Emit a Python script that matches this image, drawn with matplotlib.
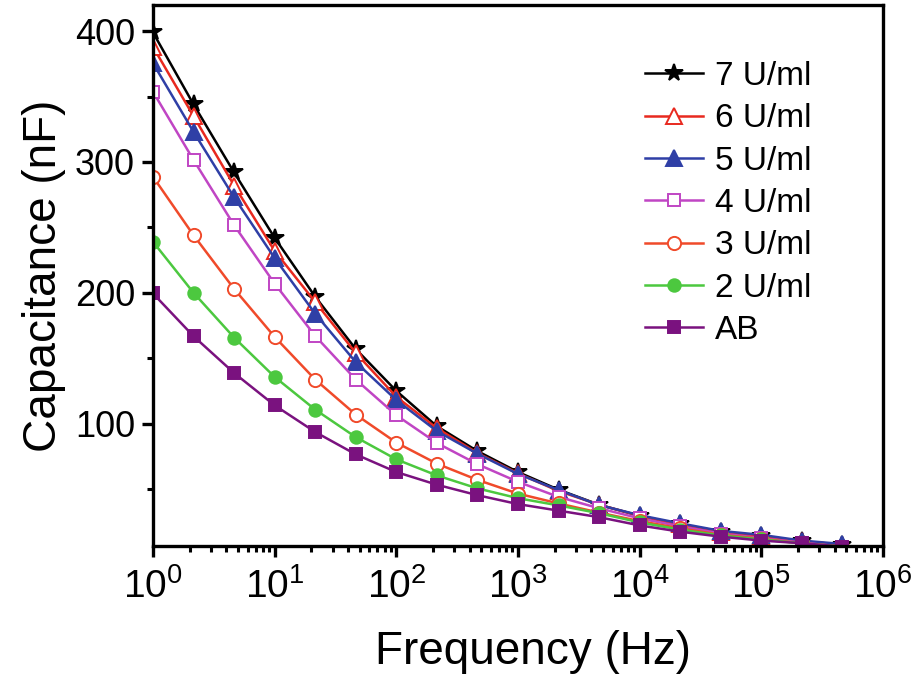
import numpy as np
import matplotlib
matplotlib.use("Agg")
import matplotlib.pyplot as plt
from matplotlib.ticker import LogLocator, FixedLocator, NullFormatter

plt.rcParams['font.family'] = ['Liberation Sans', 'DejaVu Sans']
plt.rcParams['mathtext.fontset'] = 'custom'
plt.rcParams['mathtext.rm'] = 'Liberation Sans'
plt.rcParams['mathtext.it'] = 'Liberation Sans:italic'
plt.rcParams['mathtext.bf'] = 'Liberation Sans:bold'

# frequency exponents (3 points per decade)
log_freq = [0, 1/3, 2/3, 1, 4/3, 5/3, 2, 7/3, 8/3, 3, 10/3, 11/3, 4, 13/3, 14/3, 5, 16/3, 17/3]
freq = [10 ** e for e in log_freq]

labels = ['7 U/ml', '6 U/ml', '5 U/ml', '4 U/ml', '3 U/ml', '2 U/ml', 'AB']
cap_7 = [399, 344, 292, 242, 197, 157, 125, 98, 79, 63, 49.5, 38, 29.5, 23, 17.5, 14, 10, 7.5]
cap_6 = [388, 335, 282, 232, 193, 154, 120.5, 96.5, 77.5, 62, 48.5, 38, 29.5, 23, 17.5, 14, 10, 7.5]
cap_5 = [375.5, 323, 273, 226.5, 184, 147, 118, 94.3, 77, 61.5, 49.2, 37.8, 30, 23.8, 18, 15, 10.6, 8]
cap_4 = [353.7, 301.5, 251.7, 207, 167, 133.7, 106.4, 85.2, 69, 55.5, 44, 35.3, 27.6, 21.5, 16, 12.5, 9, 6]
cap_3 = [288.7, 244, 203, 166.3, 133.7, 106.9, 85.5, 69.4, 57, 46.5, 39, 32, 25.5, 20, 15, 12, 8.5, 6]
cap_2 = [239, 200, 165.8, 135.7, 110.7, 89.7, 72.7, 60.4, 50.5, 43, 37.5, 31.5, 24.5, 19, 14.5, 11.5, 8.5, 6]
cap_ab = [199.5, 166.8, 138.7, 114, 93.6, 76.5, 63, 53.3, 45.3, 38.5, 33.5, 28.5, 22.2, 17.4, 13.6, 10.6, 8.6, 6]
series = [cap_7, cap_6, cap_5, cap_4, cap_3, cap_2, cap_ab]

colors = ['#000000', '#E8291F', '#2F3FA6', '#C045C4', '#F04A2A', '#4CC83F', '#7A127F']
markers = ['*', '^', '^', 's', 'o', 'o', 's']
filled = [True, False, True, False, False, True, True]
msizes = [13, 11, 11, 9, 9.5, 9, 8.5]

fig = plt.figure(figsize=(9.14, 6.8), dpi=100)
ax = fig.add_axes([153/914, 1-545.7/680, (883-153)/914, (545.7-5)/680])

for y, lab, c, m, f, ms in zip(series, labels, colors, markers, filled, msizes):
    ax.plot(freq, y, color=c, marker=m, markersize=ms, linewidth=1.8,
            markerfacecolor=c if f else 'white', markeredgecolor=c,
            markeredgewidth=1.4, label=lab)

ax.set_xscale('log')
ax.set_xlim(1, 1e6)
ax.set_ylim(6.7, 420)

ax.yaxis.set_major_locator(FixedLocator([100, 200, 300, 400]))
ax.yaxis.set_minor_locator(FixedLocator([50, 150, 250, 350]))
ax.xaxis.set_major_locator(LogLocator(base=10, numticks=10))
ax.xaxis.set_minor_locator(LogLocator(base=10, subs=np.arange(2, 10), numticks=20))
ax.xaxis.set_minor_formatter(NullFormatter())

for s in ax.spines.values():
    s.set_linewidth(2.4)
ax.tick_params(which='major', direction='out', length=8, width=2.4, labelsize=26, pad=5)
ax.tick_params(which='minor', direction='out', length=4.5, width=2.2)
ax.tick_params(axis='x', which='major', labelsize=28, pad=8)

ax.set_xlabel('Frequency (Hz)', fontsize=33, labelpad=18)
ax.xaxis.set_label_coords(0.52, -0.155)
ax.set_ylabel('Capacitance (nF)', fontsize=33, labelpad=6)

leg = ax.legend(loc='upper left', bbox_to_anchor=(645/914, 1-61/680),
                bbox_transform=fig.transFigure, frameon=False, fontsize=24,
                handlelength=1.75, handletextpad=0.35, labelspacing=0.34,
                borderpad=0, borderaxespad=0)

fig.savefig('out.png', dpi=100)
